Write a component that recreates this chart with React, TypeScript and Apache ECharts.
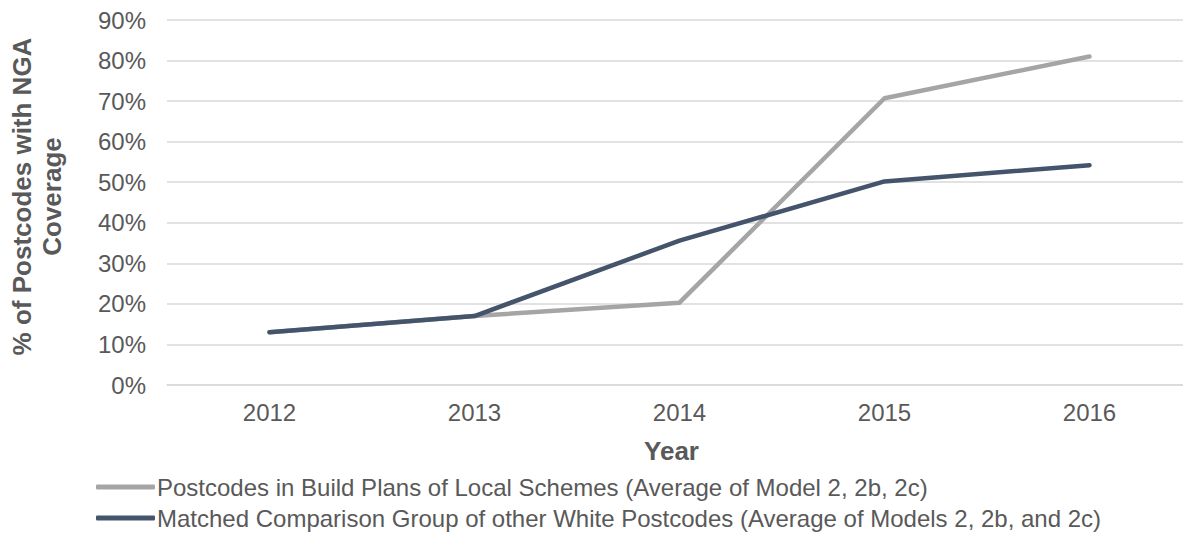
import React, { useEffect, useRef } from "react";
import * as echarts from "echarts";

const years = ["2012", "2013", "2014", "2015", "2016"];
const buildPlans = [13.0, 17.0, 20.3, 70.7, 81.0];
const comparison = [13.0, 17.0, 35.6, 50.2, 54.2];
const seriesNames = [
  "Postcodes in Build Plans of Local Schemes (Average of Model 2, 2b, 2c)",
  "Matched Comparison Group of other White Postcodes (Average of Models 2, 2b, and 2c)",
];
const colors = ["#A5A5A5", "#44546A"];

const FONT = "Arial, 'Liberation Sans', sans-serif";
const TEXT = "#595959";

export default function App() {
  const ref = useRef<HTMLDivElement>(null);
  useEffect(() => {
    const chart = echarts.init(ref.current!, null, { renderer: "svg" });
    chart.setOption({
      animation: false,
      textStyle: { fontFamily: FONT },
      grid: {
        left: 167,
        top: 20,
        width: 1025,
        height: 365,
        containLabel: false,
        outerBoundsMode: "none",
      },
      xAxis: {
        type: "category",
        data: years,
        boundaryGap: true,
        axisLine: { show: true, lineStyle: { color: "#D9D9D9", width: 1.5 } },
        axisTick: { show: false },
        axisLabel: { color: TEXT, fontSize: 24, margin: 15, fontFamily: FONT },
        name: "Year",
        nameLocation: "middle",
        nameGap: 53,
        nameTextStyle: { color: TEXT, fontSize: 26, fontWeight: "bold", fontFamily: FONT, padding: [0, 16, 0, 0] },
      },
      yAxis: {
        type: "value",
        min: 0,
        max: 90,
        interval: 10,
        axisLine: { show: false },
        axisTick: { show: false },
        splitLine: { lineStyle: { color: "#D9D9D9", width: 1.5 } },
        axisLabel: { color: TEXT, fontSize: 24, margin: 21, formatter: "{value}%", fontFamily: FONT },
        name: "% of Postcodes with NGA\nCoverage",
        nameLocation: "middle",
        nameGap: 100,
        nameRotate: 90,
        nameTextStyle: { color: TEXT, fontSize: 26, fontWeight: "bold", lineHeight: 30, fontFamily: FONT, padding: [0, 0, 0, 12] },
      },
      legend: {
        orient: "vertical",
        left: 96,
        top: 475,
        padding: 0,
        itemWidth: 59,
        itemHeight: 5,
        itemGap: 7,
        icon: "roundRect",
        textStyle: { color: TEXT, fontSize: 24, padding: [0, 0, 0, -3], fontFamily: FONT },
        data: seriesNames,
      },
      series: [
        {
          name: seriesNames[0],
          type: "line",
          data: buildPlans,
          symbol: "none",
          color: colors[0],
          lineStyle: { width: 4.5, color: colors[0], cap: "round", join: "round" },
        },
        {
          name: seriesNames[1],
          type: "line",
          data: comparison,
          symbol: "none",
          color: colors[1],
          lineStyle: { width: 4.5, color: colors[1], cap: "round", join: "round" },
        },
      ],
    });
    return () => chart.dispose();
  }, []);
  return (
    <div
      ref={ref}
      style={{ position: "fixed", left: 0, top: 0, width: 1183, height: 536, background: "#fff" }}
    />
  );
}
